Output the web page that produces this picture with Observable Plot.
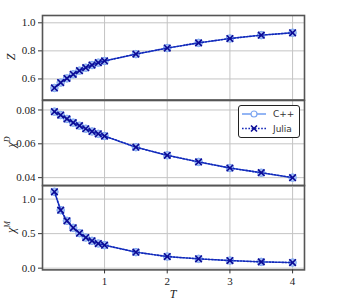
<!DOCTYPE html>
<html>
<head>
<meta charset="utf-8">
<script src="https://cdn.jsdelivr.net/npm/d3@7"></script>
<script src="https://cdn.jsdelivr.net/npm/@observablehq/plot@0.6"></script>
<style>
  html, body { margin: 0; padding: 0; background: white; }
  #wrap { position: relative; width: 338px; height: 300px; background: white; overflow: hidden; }
  .pnl { position: absolute; left: 0; }
  .pnl svg, .pnl svg text { font-family: "Liberation Serif", "Times New Roman", "DejaVu Serif", serif !important; }
  .lab { position: absolute; font-family: "Liberation Serif", "Times New Roman", "DejaVu Serif", serif; font-size: 12px; color: #222; white-space: nowrap; transform: translate(-50%, -50%); }
  .rot { transform: translate(-50%, -50%) rotate(-90deg); }
  .lab sup { font-size: 8px; font-style: italic; vertical-align: 5px; }
  #legend { position: absolute; left: 238px; top: 105px; width: 60px; height: 31px; border: 1px solid #222; border-radius: 3px; background: white; }
</style>
</head>
<body>
<div id="wrap"></div>
<script>
// ---- data ----
const temperature = [0.2, 0.3, 0.4, 0.5, 0.6, 0.7, 0.8, 0.9, 1.0, 1.5, 2.0, 2.5, 3.0, 3.5, 4.0];
const zCpp   = [0.536, 0.574, 0.604, 0.633, 0.659, 0.680, 0.699, 0.716, 0.728, 0.777, 0.820, 0.857, 0.888, 0.912, 0.929];
const zJulia = [0.536, 0.574, 0.604, 0.633, 0.659, 0.680, 0.699, 0.716, 0.728, 0.777, 0.820, 0.857, 0.888, 0.912, 0.929];
const chiDCpp   = [0.0790, 0.0770, 0.0747, 0.0725, 0.0707, 0.0689, 0.0673, 0.0659, 0.0646, 0.0580, 0.0532, 0.0493, 0.0457, 0.0429, 0.0400];
const chiDJulia = [0.0790, 0.0770, 0.0747, 0.0725, 0.0707, 0.0689, 0.0673, 0.0659, 0.0646, 0.0580, 0.0532, 0.0493, 0.0457, 0.0429, 0.0400];
const chiMCpp   = [1.106, 0.840, 0.685, 0.584, 0.507, 0.443, 0.396, 0.357, 0.333, 0.232, 0.168, 0.135, 0.110, 0.091, 0.081];
const chiMJulia = [1.106, 0.840, 0.685, 0.584, 0.507, 0.443, 0.396, 0.357, 0.333, 0.232, 0.168, 0.135, 0.110, 0.091, 0.081];
const xTicks = [1, 2, 3, 4];
const zTicks = [0.6, 0.8, 1.0];
const chiDTicks = [0.04, 0.06, 0.08];
const chiMTicks = [0.0, 0.5, 1.0];
const seriesNames = ["C++", "Julia"];

const cppLine = "#6f9cf0", cppFill = "#a9c2f3", cppEdge = "#7ca5f0";
const juliaLine = "#1226b8", juliaMark = "#0c0c96";
const serif = "'Liberation Serif', 'Times New Roman', 'DejaVu Serif', serif";

const wrap = document.getElementById("wrap");

function panel({cpp, julia, domain, ticks, fmt, top, bottom, showX}) {
  const mt = 8, mb = showX ? 300 - bottom : 8;
  const rows = temperature.map((t, i) => ({T: t, cpp: cpp[i], julia: julia[i]}));
  const marks = [
    Plot.gridX(xTicks, {stroke: "#c4c4c4", strokeOpacity: 1, strokeWidth: 1}),
    Plot.gridY(ticks, {stroke: "#c4c4c4", strokeOpacity: 1, strokeWidth: 1}),
    Plot.axisY(ticks, {tickSize: 4, tickPadding: 3, tickFormat: fmt, stroke: "#333", fill: "#222", label: null, fontFamily: serif, fontSize: 11}),
    Plot.frame({stroke: "#555", strokeWidth: 1.6}),
    Plot.line(rows, {x: "T", y: "cpp", stroke: cppLine, strokeWidth: 1.3}),
    Plot.dot(rows, {x: "T", y: "cpp", r: 3.8, fill: cppFill, stroke: cppEdge, strokeWidth: 1}),
    Plot.line(rows, {x: "T", y: "julia", stroke: juliaLine, strokeWidth: 1.6, strokeDasharray: "1.6,1.6"}),
    Plot.dot(rows, {x: "T", y: "julia", r: 3.1, symbol: "times", stroke: juliaMark, strokeWidth: 1.6})
  ];
  if (showX) marks.push(Plot.axisX(xTicks, {tickSize: 4, tickPadding: 3, tickFormat: d => String(d), stroke: "#333", fill: "#222", label: null, fontFamily: serif, fontSize: 11}));
  const p = Plot.plot({
    width: 338,
    height: (bottom - top) + mt + mb,
    marginLeft: 42, marginRight: 34, marginTop: mt, marginBottom: mb,
    x: {domain: [0.01, 4.19], axis: null},
    y: {domain, axis: null},
    style: {background: "transparent", fontFamily: serif, fontSize: "11px", overflow: "visible"},
    marks
  });
  const d = document.createElement("div");
  d.className = "pnl";
  d.style.top = (top - mt) + "px";
  d.appendChild(p);
  wrap.appendChild(d);
}

panel({cpp: zCpp, julia: zJulia, domain: [0.45, 1.052], ticks: zTicks, fmt: d3.format(".1f"), top: 15, bottom: 99.5, showX: false});
panel({cpp: chiDCpp, julia: chiDJulia, domain: [0.0353, 0.0856], ticks: chiDTicks, fmt: d3.format(".2f"), top: 99.5, bottom: 184.6, showX: false});
panel({cpp: chiMCpp, julia: chiMJulia, domain: [-0.025, 1.197], ticks: chiMTicks, fmt: d3.format(".1f"), top: 184.6, bottom: 269, showX: true});

// axis labels
function label(html, x, y, rot) {
  const e = document.createElement("div");
  e.className = "lab" + (rot ? " rot" : "");
  e.style.left = x + "px"; e.style.top = y + "px";
  e.innerHTML = html;
  wrap.appendChild(e);
}
label("<i>Z</i>", 11, 57, true);
label("<i>χ</i><sup>D</sup>", 11, 142, true);
label("<i>χ</i><sup>M</sup>", 11, 227, true);
label("<i>T</i>", 173, 294, false);

// legend
const lg = document.createElement("div");
lg.id = "legend";
lg.innerHTML = `
<svg width="60" height="31" style="position:absolute;left:0;top:0">
  <line x1="3" x2="27" y1="8" y2="8" stroke="${cppLine}" stroke-width="1.5"/>
  <circle cx="15" cy="8" r="3" fill="white" stroke="${cppEdge}" stroke-width="1.2"/>
  <line x1="3" x2="27" y1="22.5" y2="22.5" stroke="${juliaLine}" stroke-width="1.6" stroke-dasharray="1.6,1.6"/>
  <path d="M12,19.5L18,25.5M18,19.5L12,25.5" stroke="${juliaMark}" stroke-width="1.6"/>
  <text x="34" y="11.3" fill="#333" font-family="DejaVu Sans" font-size="9">${seriesNames[0]}</text>
  <text x="34" y="25.8" fill="#333" font-family="DejaVu Sans" font-size="9">${seriesNames[1]}</text>
</svg>`;
wrap.appendChild(lg);
</script>
</body>
</html>
